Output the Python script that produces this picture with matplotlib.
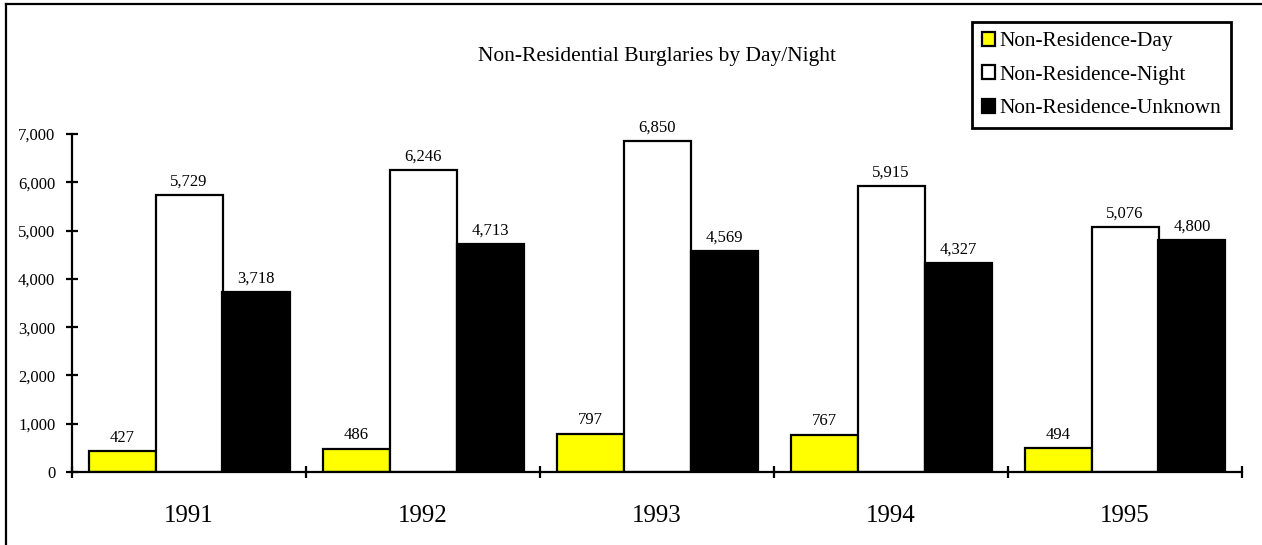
import matplotlib.pyplot as plt
import numpy as np
from matplotlib.lines import Line2D

# dados
anos = ["1991", "1992", "1993", "1994", "1995"]
dia = [427, 486, 797, 767, 494]
noite = [5729, 6246, 6850, 5915, 5076]
desconhecido = [3718, 4713, 4569, 4327, 4800]

series = [
    ("Non-Residence-Day", dia, "#ffff00"),
    ("Non-Residence-Night", noite, "#ffffff"),
    ("Non-Residence-Unknown", desconhecido, "#000000"),
]

plt.rcParams.update(
    {
        "font.family": "serif",
        "font.serif": ["Liberation Serif", "DejaVu Serif"],
        "figure.facecolor": "#FFFFFF",
        "axes.facecolor": "#FFFFFF",
    }
)

W, H = 1262, 545
fig = plt.figure(figsize=(W / 100, H / 100), dpi=100)
ax = fig.add_axes([72 / W, 1 - 472 / H, (1242 - 72) / W, (472 - 134) / H])

largura = 67 / 234
x = np.arange(len(anos)) + 0.5
for i, (nome, valores, cor) in enumerate(series):
    pos = x + (i - 1) * largura
    bars = ax.bar(pos, valores, width=largura, color=cor, edgecolor="black",
                  linewidth=1.6, label=nome)
    for b, v in zip(bars, valores):
        ax.annotate(f"{v:,}", (b.get_x() + b.get_width() / 2, v),
                    xytext=(0, 4), textcoords="offset points",
                    ha="center", va="bottom", fontsize=12)

ax.set_xlim(0, len(anos))
ax.set_ylim(0, 7000)
ax.set_yticks(np.arange(0, 7001, 1000))
ax.set_yticklabels([f"{v:,}" for v in range(0, 7001, 1000)], fontsize=12)
ax.set_xticks(np.arange(0, len(anos) + 1))
ax.set_xticklabels([])
ax.set_xticks(x, minor=True)
ax.set_xticklabels(anos, minor=True, fontsize=18)
ax.tick_params(axis="x", which="minor", length=0, pad=24)
ax.tick_params(axis="both", which="major", direction="inout", length=8, width=1.6)
ax.tick_params(axis="y", pad=8)

for s in ["top", "right"]:
    ax.spines[s].set_visible(False)
for s in ["left", "bottom"]:
    ax.spines[s].set_linewidth(1.6)

fig.text(657 / W, 1 - 57 / H, "Non-Residential Burglaries by Day/Night",
         ha="center", va="center", fontsize=15.5)

leg = fig.legend(loc="upper left", bbox_to_anchor=(972 / W, 1 - 22 / H),
                 fontsize=15.3, frameon=True, fancybox=False, edgecolor="black",
                 handlelength=0.65, handleheight=0.65, handletextpad=0.2,
                 labelspacing=0.66, borderpad=0.45, borderaxespad=0)
leg.get_frame().set_linewidth(2)
leg.get_frame().set_alpha(1)

# moldura (somente esquerda e topo visiveis)
fig.add_artist(Line2D([6 / W, 6 / W], [0, 1 - 4 / H], color="black", lw=1.6,
                      transform=fig.transFigure))
fig.add_artist(Line2D([6 / W, 1], [1 - 4 / H, 1 - 4 / H], color="black", lw=1.6,
                      transform=fig.transFigure))

fig.savefig("out.png", dpi=100)
